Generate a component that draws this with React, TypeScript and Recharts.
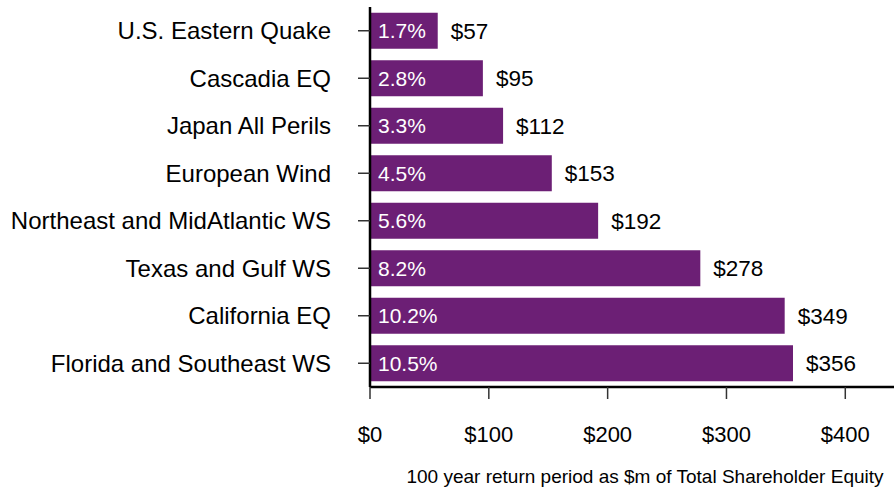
import React from "react";
import { BarChart, Bar, XAxis, YAxis, LabelList } from "recharts";

const perils = [
  "U.S. Eastern Quake",
  "Cascadia EQ",
  "Japan All Perils",
  "European Wind",
  "Northeast and MidAtlantic WS",
  "Texas and Gulf WS",
  "California EQ",
  "Florida and Southeast WS",
];
const lossValues = [57, 95, 112, 153, 192, 278, 349, 356];
const equityShare = ["1.7%", "2.8%", "3.3%", "4.5%", "5.6%", "8.2%", "10.2%", "10.5%"];
const xTicks = [0, 100, 200, 300, 400];

const rows = perils.map((name, i) => ({ name, value: lossValues[i], pct: equityShare[i] }));

const FONT = "'Liberation Sans', Arial, sans-serif";
const PURPLE = "#6c1f75";

export default function App() {
  return (
    <div style={{ position: "absolute", left: 0, top: 0, fontFamily: FONT, width: 894, height: 487 }}>
      <BarChart
        width={894}
        height={487}
        data={rows}
        layout="vertical"
        margin={{ top: 7, right: 0, bottom: 0, left: 0 }}
        barCategoryGap="12%"
      >
        <XAxis
          type="number"
          domain={[0, 441]}
          ticks={xTicks}
          tickFormatter={(v: number) => `$${v}`}
          tick={{ fill: "#000", fontSize: 22, fontFamily: FONT }}
          tickSize={12}
          tickMargin={27}
          tickLine={{ stroke: "#333", strokeWidth: 1.5 }}
          axisLine={{ stroke: "#000", strokeWidth: 2.5 }}
          height={100}
          label={{
            value: "100 year return period as $m of Total Shareholder Equity",
            position: "insideBottom",
            offset: 4,
            dx: 13,
            fill: "#000",
            fontSize: 19,
            fontFamily: FONT,
          }}
        />
        <YAxis
          type="category"
          dataKey="name"
          width={370}
          tick={{ fill: "#000", fontSize: 24, fontFamily: FONT }}
          tickSize={12}
          tickMargin={27}
          tickLine={{ stroke: "#333", strokeWidth: 1.5 }}
          axisLine={{ stroke: "#000", strokeWidth: 2.5 }}
        />
        <Bar dataKey="value" fill={PURPLE} isAnimationActive={false}>
          <LabelList
            dataKey="pct"
            position="insideLeft"
            offset={8}
            fill="#fff"
            fontSize={21}
            fontFamily={FONT}
          />
          <LabelList
            dataKey="value"
            position="right"
            offset={13}
            formatter={(v: number) => `$${v}`}
            fill="#000"
            fontSize={22.5}
            fontFamily={FONT}
          />
        </Bar>
      </BarChart>
    </div>
  );
}
